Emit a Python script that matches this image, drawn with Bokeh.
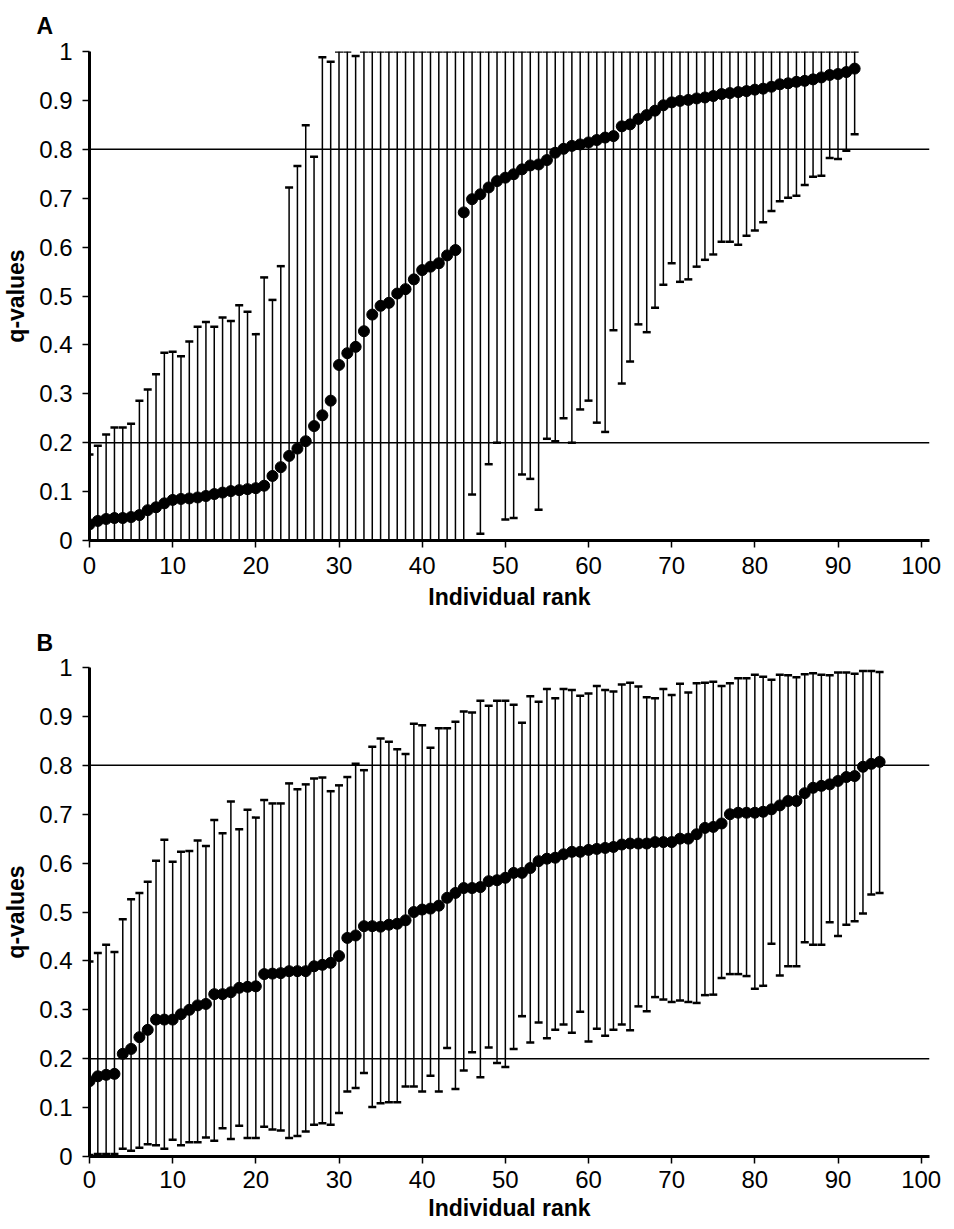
from bokeh.plotting import figure
from bokeh.models import (ColumnDataSource, Whisker, TeeHead, Span, Title,
                          FixedTicker, NumeralTickFormatter, Range1d)
from bokeh.layouts import column
from bokeh.embed import file_html
from bokeh.resources import INLINE

# ---------------- data ----------------
x_ticks = [0, 10, 20, 30, 40, 50, 60, 70, 80, 90, 100]
y_ticks = [i / 10 for i in range(11)]
thresholds = [0.2, 0.8]

rank_a = list(range(93))
q_a = [0.033, 0.040, 0.044, 0.046, 0.046, 0.048, 0.052, 0.062, 0.068, 0.076,
       0.083, 0.085, 0.086, 0.088, 0.091, 0.095, 0.098, 0.101, 0.103, 0.105,
       0.107, 0.112, 0.132, 0.150, 0.173,
       0.188, 0.203, 0.234, 0.256, 0.286, 0.359, 0.383, 0.396, 0.428, 0.462,
       0.480, 0.486, 0.505, 0.514, 0.534, 0.553, 0.560, 0.567, 0.583, 0.594,
       0.671, 0.698, 0.708, 0.722,
       0.735, 0.742, 0.749, 0.759, 0.767, 0.769, 0.778, 0.793, 0.801, 0.807,
       0.810, 0.814, 0.819, 0.824, 0.827, 0.847, 0.851, 0.862, 0.870, 0.879,
       0.890, 0.896, 0.899, 0.901, 0.904, 0.906, 0.909,
       0.913, 0.915, 0.917, 0.919, 0.922, 0.924, 0.928, 0.933, 0.935, 0.938,
       0.940, 0.943, 0.947, 0.952, 0.954, 0.958, 0.965]
upper_a = [0.176, 0.194, 0.217, 0.231, 0.231, 0.239, 0.286, 0.309, 0.340, 0.384,
           0.386, 0.377, 0.407, 0.437, 0.447, 0.437, 0.456, 0.449, 0.481, 0.468,
           0.422, 0.538, 0.492, 0.561, 0.722, 0.766, 0.849, 0.785, 0.988, 0.979,
           1.0, 1.0, 0.991] + [1.0] * 60
lower_a = [0.0] * 46 + [
           0.094, 0.014, 0.156, 0.200, 0.043, 0.046, 0.135, 0.126, 0.063, 0.208,
           0.203, 0.250, 0.200, 0.268, 0.286, 0.241, 0.222, 0.430, 0.321, 0.366,
           0.442, 0.426, 0.476, 0.523, 0.567, 0.529, 0.534, 0.560, 0.574, 0.585,
           0.611, 0.611, 0.605, 0.623, 0.634, 0.651, 0.674, 0.694, 0.701, 0.705,
           0.727, 0.744, 0.746, 0.782, 0.780, 0.797, 0.831]

rank_b = list(range(96))
q_b = [0.154, 0.164, 0.167, 0.169, 0.210, 0.220, 0.244, 0.259, 0.280, 0.280,
       0.280, 0.291, 0.300, 0.309, 0.312, 0.332, 0.332, 0.336, 0.345, 0.347,
       0.348, 0.373, 0.374, 0.375, 0.379,
       0.379, 0.379, 0.389, 0.392, 0.396, 0.410, 0.447, 0.452, 0.471, 0.471,
       0.470, 0.474, 0.476, 0.483, 0.500, 0.505, 0.507, 0.513, 0.529, 0.539,
       0.549, 0.549, 0.551, 0.563, 0.565,
       0.570, 0.580, 0.580, 0.590, 0.604, 0.609, 0.611, 0.618, 0.623, 0.623,
       0.627, 0.629, 0.631, 0.633, 0.638, 0.640, 0.640, 0.640, 0.643, 0.643,
       0.643, 0.650, 0.650, 0.659, 0.672, 0.674,
       0.681, 0.700, 0.703, 0.703, 0.703, 0.705, 0.710, 0.718, 0.727, 0.727,
       0.743, 0.754, 0.758, 0.761, 0.768, 0.776, 0.778, 0.797, 0.803, 0.807]
upper_b = [0.399, 0.416, 0.433, 0.418, 0.485, 0.526, 0.539, 0.562, 0.605, 0.648,
           0.603, 0.623, 0.625, 0.646, 0.635, 0.688, 0.661, 0.726, 0.669, 0.709,
           0.693, 0.729, 0.722, 0.722, 0.763,
           0.751, 0.761, 0.773, 0.775, 0.747, 0.759, 0.776, 0.803, 0.790, 0.838,
           0.855, 0.848, 0.833, 0.823, 0.885, 0.882, 0.836, 0.876, 0.876, 0.889,
           0.910, 0.908, 0.932, 0.922, 0.932,
           0.932, 0.924, 0.887, 0.941, 0.930, 0.956, 0.937, 0.956, 0.954, 0.942,
           0.947, 0.962, 0.954, 0.951, 0.965, 0.969, 0.961, 0.939, 0.937, 0.956,
           0.944, 0.967, 0.949, 0.968, 0.969, 0.971,
           0.962, 0.968, 0.978, 0.978, 0.985, 0.981, 0.975, 0.985, 0.984, 0.980,
           0.986, 0.988, 0.985, 0.984, 0.990, 0.990, 0.987, 0.993, 0.993, 0.991]
lower_b = [0.003, 0.005, 0.005, 0.005, 0.016, 0.012, 0.018, 0.025, 0.023, 0.016,
           0.034, 0.023, 0.029, 0.029, 0.039, 0.032, 0.058, 0.036, 0.063, 0.038,
           0.038, 0.061, 0.055, 0.053, 0.038,
           0.042, 0.051, 0.065, 0.068, 0.065, 0.089, 0.133, 0.140, 0.171, 0.101,
           0.109, 0.111, 0.111, 0.143, 0.143, 0.133, 0.165, 0.133, 0.222, 0.138,
           0.176, 0.213, 0.162, 0.223, 0.191,
           0.183, 0.220, 0.287, 0.233, 0.274, 0.242, 0.259, 0.270, 0.253, 0.296,
           0.235, 0.261, 0.247, 0.259, 0.270, 0.258, 0.307, 0.297, 0.326, 0.321,
           0.316, 0.319, 0.316, 0.314, 0.330, 0.331,
           0.365, 0.373, 0.373, 0.369, 0.343, 0.349, 0.435, 0.370, 0.389, 0.389,
           0.438, 0.433, 0.433, 0.479, 0.451, 0.474, 0.481, 0.497, 0.536, 0.539]

FONT = "Liberation Sans"


def make_panel(letter, ranks, q, lo, hi, border_top, border_bottom,
               tick_standoff, label_standoff, title_standoff):
    title = Title(text=letter, align="left", offset=-53,
                  standoff=title_standoff, vertical_align="top",
                  text_font=FONT, text_font_size="23px",
                  text_font_style="bold", text_color="black")
    p = figure(frame_width=840, frame_height=489, title=title,
               x_range=Range1d(0, 101), y_range=Range1d(0, 1),
               output_backend="svg", toolbar_location=None,
               min_border_left=83, min_border_right=15,
               min_border_top=border_top, min_border_bottom=border_bottom,
               background_fill_color="white", border_fill_color="white")
    p.grid.visible = False
    p.outline_line_color = None

    for t in thresholds:
        p.add_layout(Span(location=t, dimension="width", line_color="black",
                          line_width=1.5, level="underlay"))

    src = ColumnDataSource(dict(x=ranks, q=q, lo=lo, hi=hi))
    w = Whisker(base="x", upper="hi", lower="lo", source=src,
                dimension="height", line_color="black", line_width=1.5,
                upper_head=TeeHead(size=8, line_color="black", line_width=2.5),
                lower_head=TeeHead(size=8, line_color="black", line_width=2.5),
                level="underlay")
    p.add_layout(w)
    p.scatter("x", "q", source=src, size=11, color="black")

    p.xaxis.ticker = FixedTicker(ticks=x_ticks, minor_ticks=[])
    p.yaxis.ticker = FixedTicker(ticks=y_ticks, minor_ticks=[])
    p.yaxis.formatter = NumeralTickFormatter(format="0.[0]")
    p.xaxis.axis_label = "Individual rank"
    p.yaxis.axis_label = "q-values"
    for ax in (p.xaxis, p.yaxis):
        ax.axis_line_width = 3
        ax.axis_line_color = "black"
        ax.major_tick_in = 0
        ax.major_tick_out = 7
        ax.major_tick_line_width = 1.5
        ax.major_tick_line_color = "black"
        ax.minor_tick_line_color = None
        ax.major_label_text_font = FONT
        ax.major_label_text_font_size = "24px"
        ax.major_label_text_color = "black"
        ax.axis_label_text_font = FONT
        ax.axis_label_text_font_size = "23px"
        ax.axis_label_text_font_style = "bold"
        ax.axis_label_text_color = "black"
    p.xaxis.major_label_standoff = tick_standoff
    p.xaxis.axis_label_standoff = label_standoff
    p.yaxis.major_label_standoff = 10
    p.yaxis.axis_label_standoff = 7
    return p


pa = make_panel("A", rank_a, q_a, lower_a, upper_a, 51, 79, 9, 7, 22)
pb = make_panel("B", rank_b, q_b, lower_b, upper_b, 48, 70, 7, 4, 19)

layout = column(pa, pb, spacing=0)
open("out.html", "w").write(file_html(layout, INLINE))
